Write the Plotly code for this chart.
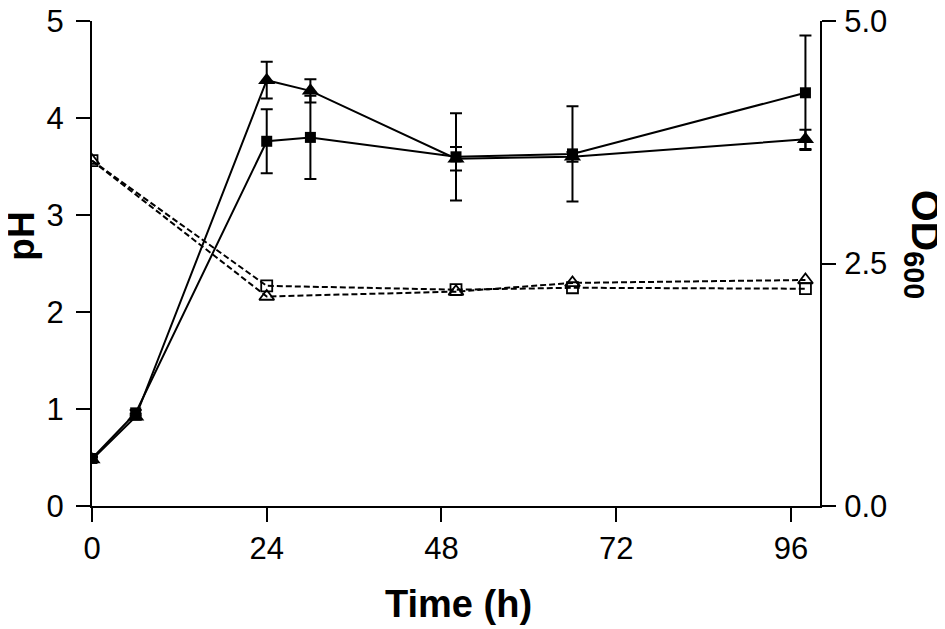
import plotly.graph_objects as go

# ---- data ----
time_od = [0, 6, 24, 30, 50, 66, 98]
od_square = [0.49, 0.96, 3.76, 3.80, 3.60, 3.63, 4.26]
od_square_err = [0.02, 0.03, 0.33, 0.43, 0.45, 0.49, 0.59]
od_triangle = [0.48, 0.92, 4.39, 4.28, 3.58, 3.60, 3.78]
od_triangle_err = [0.02, 0.03, 0.19, 0.12, 0.12, 0.05, 0.10]

time_ph = [0, 24, 50, 66, 98]
ph_square = [3.56, 2.27, 2.23, 2.25, 2.24]
ph_triangle = [3.56, 2.16, 2.21, 2.30, 2.33]

x_ticks = [0, 24, 48, 72, 96]
ph_ticks = [0, 1, 2, 3, 4, 5]
od_ticks = [0, 2.5, 5.0]
od_tick_text = ["0.0", "2.5", "5.0"]

FONT = "Liberation Sans, Arial, sans-serif"

fig = go.Figure()

# pH (dashed, open markers)
fig.add_trace(go.Scatter(
    x=time_ph, y=ph_square, mode="lines+markers", name="pH (square)",
    line=dict(color="black", width=2, dash="6px,3px"),
    marker=dict(symbol="square-open", size=11, color="black", line=dict(width=1.8, color="black")),
    yaxis="y"))
fig.add_trace(go.Scatter(
    x=time_ph, y=ph_triangle, mode="lines+markers", name="pH (triangle)",
    line=dict(color="black", width=2, dash="6px,3px"),
    marker=dict(symbol="triangle-up-open", size=13, color="black", line=dict(width=1.8, color="black")),
    yaxis="y"))

# OD600 (solid, filled markers)
fig.add_trace(go.Scatter(
    x=time_od, y=od_square, mode="lines+markers", name="OD600 (square)",
    line=dict(color="black", width=2),
    marker=dict(symbol="square", size=11, color="black"),
    error_y=dict(type="data", array=od_square_err, visible=True, color="black", thickness=2, width=6),
    yaxis="y2"))
fig.add_trace(go.Scatter(
    x=time_od, y=od_triangle, mode="lines+markers", name="OD600 (triangle)",
    line=dict(color="black", width=2),
    marker=dict(symbol="triangle-up", size=15, color="black"),
    error_y=dict(type="data", array=od_triangle_err, visible=True, color="black", thickness=2, width=6),
    yaxis="y2"))

axis_common = dict(
    showgrid=False, zeroline=False, showline=True, linecolor="black", linewidth=2,
    ticks="outside", ticklen=14, tickwidth=2, tickcolor="black", automargin=False,
    ticklabeloverflow="allow",
    tickfont=dict(family=FONT, size=31, color="black"),
)

fig.update_layout(
    width=945, height=629,
    margin=dict(l=84, r=133, t=13, b=131),
    paper_bgcolor="white", plot_bgcolor="white",
    showlegend=False,
    xaxis=dict(range=[0, 100], tickvals=x_ticks, **axis_common),
    yaxis=dict(range=[0, 5], tickvals=ph_ticks, ticklabelstandoff=6, **axis_common),
    yaxis2=dict(range=[0, 5], tickvals=od_ticks, ticktext=od_tick_text,
                overlaying="y", side="right", ticklabelstandoff=2, **axis_common),
    annotations=[
        dict(text="<b>pH</b>", x=-0.097, y=0.556, xref="paper", yref="paper",
             textangle=-90, showarrow=False, xanchor="center", yanchor="middle",
             font=dict(family=FONT, size=37, color="black")),
        dict(text="<b>OD<sub>600</sub></b>", x=1.142, y=0.54, xref="paper", yref="paper",
             textangle=90, showarrow=False, xanchor="center", yanchor="middle",
             font=dict(family=FONT, size=41, color="black")),
        dict(text="<b>Time (h)</b>", x=0.504, y=-0.202, xref="paper", yref="paper",
             showarrow=False, xanchor="center", yanchor="middle",
             font=dict(family=FONT, size=38, color="black")),
    ],
)

fig.write_html("out.html")
